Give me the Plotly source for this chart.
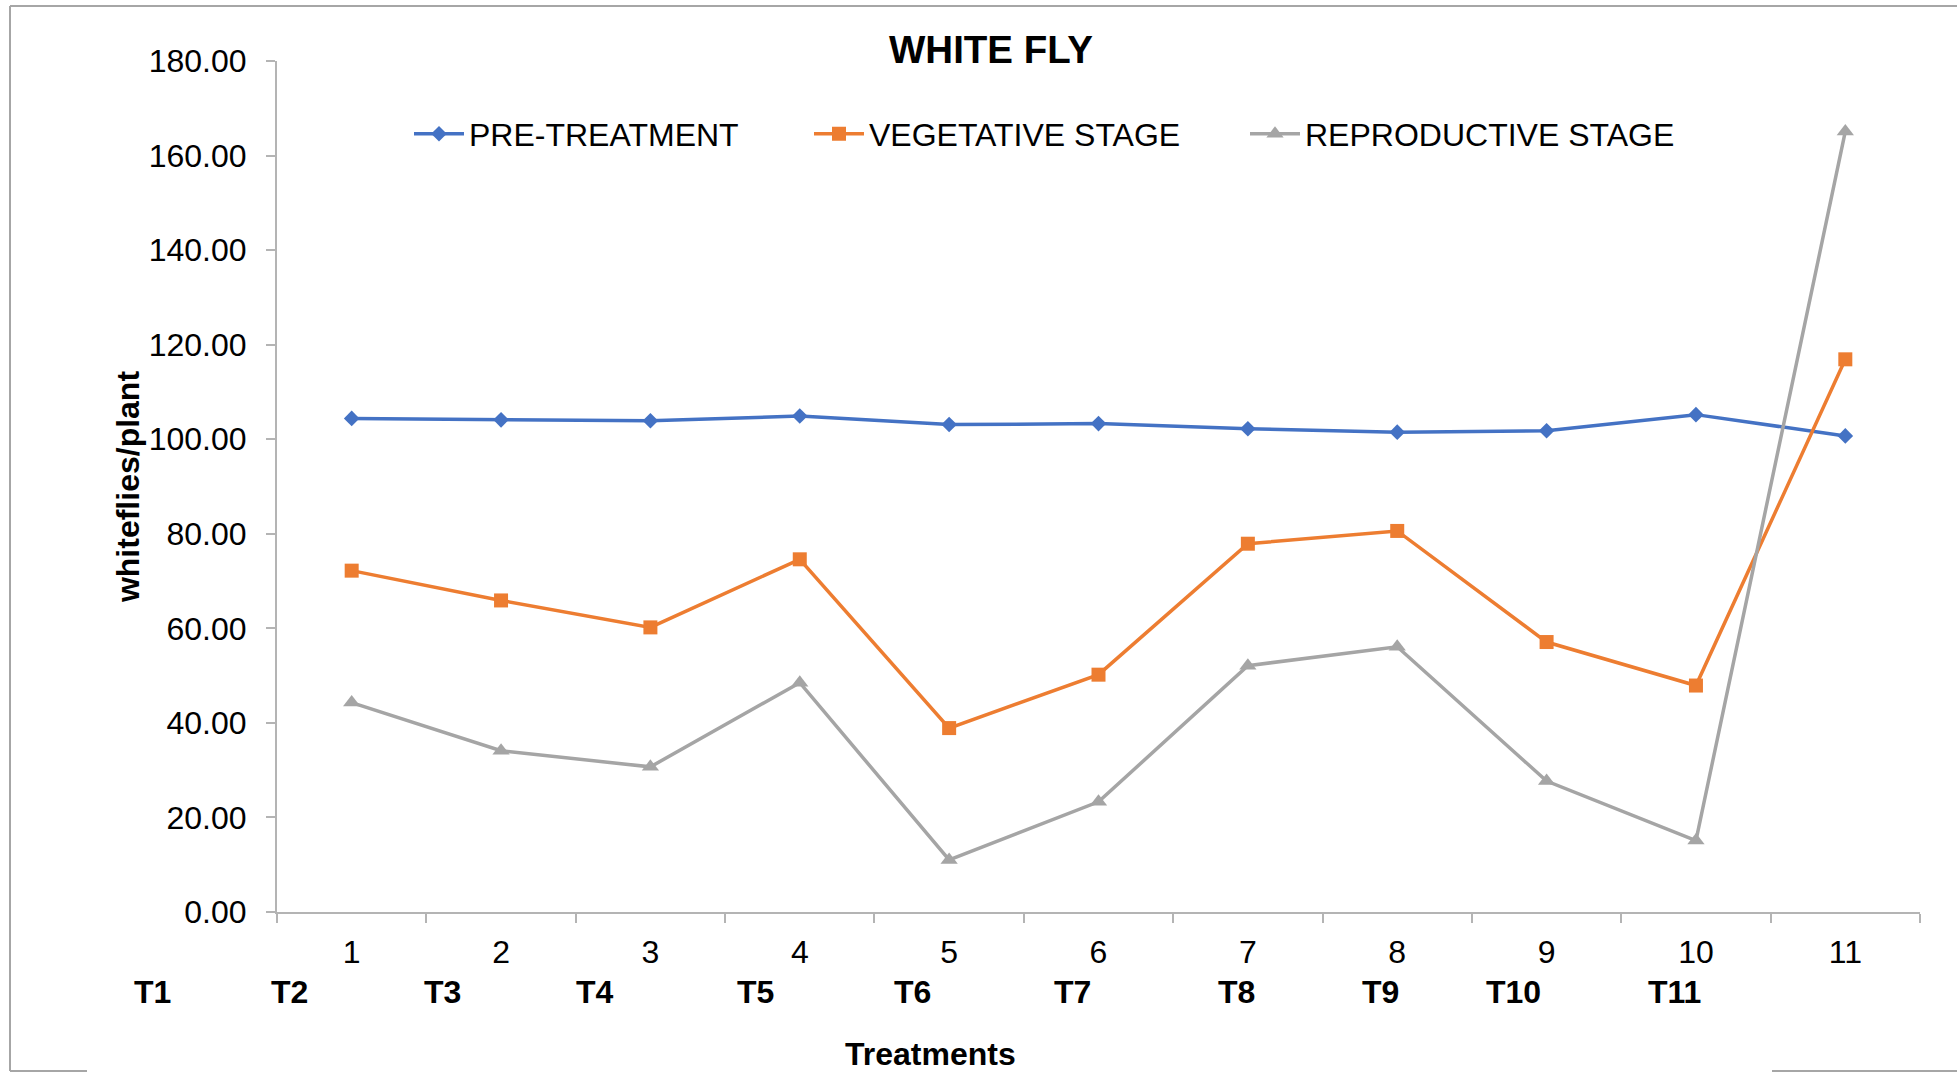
import plotly.graph_objects as go

categories = ["1", "2", "3", "4", "5", "6", "7", "8", "9", "10", "11"]
pre_treatment = [104.4, 104.1, 103.9, 104.9, 103.1, 103.3, 102.2, 101.5, 101.8, 105.2, 100.7]
vegetative = [72.2, 65.9, 60.2, 74.6, 38.9, 50.2, 77.9, 80.6, 57.1, 47.9, 116.9]
reproductive = [44.3, 34.1, 30.7, 48.5, 11.0, 23.3, 52.1, 56.1, 27.7, 15.1, 165.1]
series_names = ["PRE-TREATMENT", "VEGETATIVE STAGE", "REPRODUCTIVE STAGE"]
treatment_labels = ["T1", "T2", "T3", "T4", "T5", "T6", "T7", "T8", "T9", "T10", "T11"]

W, H = 1957, 1072
L, R, T, B = 277, 37, 61, 160
FONT = "Liberation Sans, Arial, sans-serif"
FS = 32
AXIS_GRAY = "#B4B4B4"
FRAME_GRAY = "#A6A6A6"

colors = ["#4472C4", "#ED7D31", "#A5A5A5"]
symbols = ["diamond", "square", "triangle-up"]
sizes = [12, 14, 15]
values = [pre_treatment, vegetative, reproductive]
legend_ids = ["legend", "legend2", "legend3"]

def px_x(p):
    return (p - L) / (W - L - R)

def px_y(p):
    return (H - B - p) / (H - T - B)

fig = go.Figure()
for name, vals, c, s, sz, lg in zip(series_names, values, colors, symbols, sizes, legend_ids):
    fig.add_trace(go.Scatter(
        x=categories, y=vals, name=name, mode="lines+markers",
        line=dict(color=c, width=3.5),
        marker=dict(symbol=s, size=sz, color=c, line=dict(width=0)),
        legend=lg,
    ))

# legend positions (px of item start)
legend_x_px = [409, 809, 1245]
legend_layouts = {}
for lg, xp in zip(legend_ids, legend_x_px):
    legend_layouts[lg] = dict(
        x=px_x(xp), y=px_y(134), xanchor="left", yanchor="middle",
        orientation="h", bgcolor="rgba(0,0,0,0)", borderwidth=0,
        font=dict(family=FONT, size=FS, color="#000000"),
        itemwidth=50,
    )

# treatment labels centres (px)
t_label_px = [152, 289, 442, 595, 755, 912, 1072, 1236, 1380, 1513, 1674]
annotations = []
for lab, xp in zip(treatment_labels, t_label_px):
    annotations.append(dict(
        text=f"<b>{lab}</b>", x=px_x(xp), y=px_y(992), xref="paper", yref="paper",
        xanchor="center", yanchor="middle", showarrow=False,
        font=dict(family=FONT, size=FS, color="#000000"),
    ))
annotations.append(dict(
    text="<b>Treatments</b>", x=px_x(930), y=px_y(1054), xref="paper", yref="paper",
    xanchor="center", yanchor="middle", showarrow=False,
    font=dict(family=FONT, size=FS, color="#000000"),
))
annotations.append(dict(
    text="<b>WHITE FLY</b>", x=px_x(991), y=px_y(49), xref="paper", yref="paper",
    xanchor="center", yanchor="middle", showarrow=False,
    font=dict(family=FONT, size=38.5, color="#000000"),
))

shapes = [
    dict(type="line", xref="paper", yref="paper", x0=px_x(10), x1=px_x(10), y0=px_y(6), y1=px_y(1071),
         line=dict(color=FRAME_GRAY, width=2)),
    dict(type="line", xref="paper", yref="paper", x0=px_x(10), x1=px_x(1957), y0=px_y(6), y1=px_y(6),
         line=dict(color=FRAME_GRAY, width=2)),
    dict(type="line", xref="paper", yref="paper", x0=px_x(10), x1=px_x(87), y0=px_y(1071), y1=px_y(1071),
         line=dict(color=FRAME_GRAY, width=2)),
    dict(type="line", xref="paper", yref="paper", x0=px_x(1772), x1=px_x(1957), y0=px_y(1071), y1=px_y(1071),
         line=dict(color=FRAME_GRAY, width=2)),
]

fig.update_layout(
    width=W, height=H,
    margin=dict(l=L, r=R, t=T, b=B, pad=0),
    paper_bgcolor="white", plot_bgcolor="white",
    font=dict(family=FONT, size=FS, color="#000000"),
    showlegend=True,
    annotations=annotations,
    shapes=shapes,
    **legend_layouts,
)
fig.update_xaxes(
    type="category", categoryorder="array", categoryarray=categories,
    range=[-0.5, 10.5], tickson="boundaries", ticks="outside", ticklen=9,
    tickcolor=AXIS_GRAY, tickwidth=2, showline=True, linecolor=AXIS_GRAY, linewidth=2,
    showgrid=False, zeroline=False, ticklabelstandoff=11,
    tickfont=dict(family=FONT, size=FS, color="#000000"),
)
fig.update_yaxes(
    range=[0, 180], dtick=20, tick0=0, tickformat=".2f", ticks="outside", ticklen=9,
    tickcolor=AXIS_GRAY, tickwidth=2, showline=True, linecolor=AXIS_GRAY, linewidth=2,
    showgrid=False, zeroline=False, ticklabelstandoff=13,
    tickfont=dict(family=FONT, size=FS, color="#000000"),
    title=dict(text="<b>whiteflies/plant</b>", font=dict(family=FONT, size=FS, color="#000000"), standoff=0),
)

fig.write_html("out.html")
